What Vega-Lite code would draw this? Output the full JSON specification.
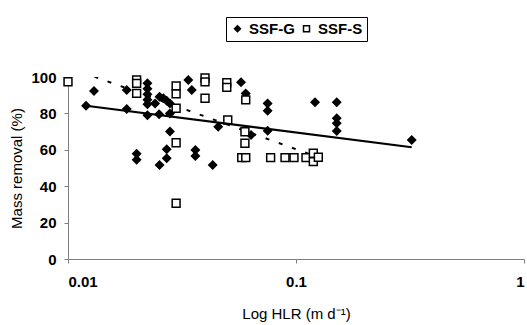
{
  "$schema": "https://vega.github.io/schema/vega-lite/v6.json",
  "width": 456,
  "height": 182,
  "autosize": {"type": "none"},
  "padding": {"left": 68, "top": 77, "right": 3, "bottom": 66},
  "background": "white",
  "config": {
    "view": {"stroke": null},
    "font": "Liberation Sans",
    "axis": {"grid": false, "domainColor": "#7f7f7f", "tickColor": "#7f7f7f", "labelColor": "black", "titleColor": "black", "labelFont": "Liberation Sans", "titleFont": "Liberation Sans", "labelOverlap": false}
  },
  "datasets": {
    "pts": [
      {"hlr": 0.0120, "removal": 84.2, "series": "SSF-G"},
      {"hlr": 0.0130, "removal": 92.3, "series": "SSF-G"},
      {"hlr": 0.0181, "removal": 92.9, "series": "SSF-G"},
      {"hlr": 0.0181, "removal": 82.4, "series": "SSF-G"},
      {"hlr": 0.0223, "removal": 96.5, "series": "SSF-G"},
      {"hlr": 0.0223, "removal": 93.5, "series": "SSF-G"},
      {"hlr": 0.0223, "removal": 90.5, "series": "SSF-G"},
      {"hlr": 0.0223, "removal": 87.5, "series": "SSF-G"},
      {"hlr": 0.0223, "removal": 85.0, "series": "SSF-G"},
      {"hlr": 0.0223, "removal": 79.0, "series": "SSF-G"},
      {"hlr": 0.0241, "removal": 85.5, "series": "SSF-G"},
      {"hlr": 0.0252, "removal": 89.2, "series": "SSF-G"},
      {"hlr": 0.0262, "removal": 88.3, "series": "SSF-G"},
      {"hlr": 0.0271, "removal": 87.0, "series": "SSF-G"},
      {"hlr": 0.0280, "removal": 85.5, "series": "SSF-G"},
      {"hlr": 0.0251, "removal": 79.5, "series": "SSF-G"},
      {"hlr": 0.0280, "removal": 80.0, "series": "SSF-G"},
      {"hlr": 0.0280, "removal": 70.0, "series": "SSF-G"},
      {"hlr": 0.0271, "removal": 60.3, "series": "SSF-G"},
      {"hlr": 0.0271, "removal": 55.3, "series": "SSF-G"},
      {"hlr": 0.0252, "removal": 51.6, "series": "SSF-G"},
      {"hlr": 0.0200, "removal": 57.8, "series": "SSF-G"},
      {"hlr": 0.0200, "removal": 54.5, "series": "SSF-G"},
      {"hlr": 0.0337, "removal": 98.4, "series": "SSF-G"},
      {"hlr": 0.0349, "removal": 92.9, "series": "SSF-G"},
      {"hlr": 0.0362, "removal": 59.9, "series": "SSF-G"},
      {"hlr": 0.0362, "removal": 56.6, "series": "SSF-G"},
      {"hlr": 0.0431, "removal": 51.6, "series": "SSF-G"},
      {"hlr": 0.0456, "removal": 72.7, "series": "SSF-G"},
      {"hlr": 0.0574, "removal": 97.1, "series": "SSF-G"},
      {"hlr": 0.0602, "removal": 91.0, "series": "SSF-G"},
      {"hlr": 0.0635, "removal": 68.1, "series": "SSF-G"},
      {"hlr": 0.0751, "removal": 85.5, "series": "SSF-G"},
      {"hlr": 0.0751, "removal": 81.5, "series": "SSF-G"},
      {"hlr": 0.0751, "removal": 70.5, "series": "SSF-G"},
      {"hlr": 0.1212, "removal": 86.1, "series": "SSF-G"},
      {"hlr": 0.1509, "removal": 86.1, "series": "SSF-G"},
      {"hlr": 0.1509, "removal": 77.3, "series": "SSF-G"},
      {"hlr": 0.1509, "removal": 74.6, "series": "SSF-G"},
      {"hlr": 0.1509, "removal": 70.3, "series": "SSF-G"},
      {"hlr": 0.3217, "removal": 65.4, "series": "SSF-G"},
      {"hlr": 0.0100, "removal": 97.4, "series": "SSF-S"},
      {"hlr": 0.0200, "removal": 98.4, "series": "SSF-S"},
      {"hlr": 0.0200, "removal": 96.5, "series": "SSF-S"},
      {"hlr": 0.0200, "removal": 91.0, "series": "SSF-S"},
      {"hlr": 0.0298, "removal": 95.1, "series": "SSF-S"},
      {"hlr": 0.0298, "removal": 90.7, "series": "SSF-S"},
      {"hlr": 0.0298, "removal": 82.8, "series": "SSF-S"},
      {"hlr": 0.0298, "removal": 63.9, "series": "SSF-S"},
      {"hlr": 0.0298, "removal": 30.6, "series": "SSF-S"},
      {"hlr": 0.0399, "removal": 99.5, "series": "SSF-S"},
      {"hlr": 0.0399, "removal": 97.3, "series": "SSF-S"},
      {"hlr": 0.0399, "removal": 88.3, "series": "SSF-S"},
      {"hlr": 0.0497, "removal": 96.9, "series": "SSF-S"},
      {"hlr": 0.0497, "removal": 94.3, "series": "SSF-S"},
      {"hlr": 0.0502, "removal": 76.4, "series": "SSF-S"},
      {"hlr": 0.0602, "removal": 87.4, "series": "SSF-S"},
      {"hlr": 0.0597, "removal": 69.9, "series": "SSF-S"},
      {"hlr": 0.0597, "removal": 63.6, "series": "SSF-S"},
      {"hlr": 0.0578, "removal": 55.7, "series": "SSF-S"},
      {"hlr": 0.0602, "removal": 55.7, "series": "SSF-S"},
      {"hlr": 0.0774, "removal": 55.7, "series": "SSF-S"},
      {"hlr": 0.0895, "removal": 55.7, "series": "SSF-S"},
      {"hlr": 0.0980, "removal": 55.7, "series": "SSF-S"},
      {"hlr": 0.1106, "removal": 55.7, "series": "SSF-S"},
      {"hlr": 0.1191, "removal": 58.1, "series": "SSF-S"},
      {"hlr": 0.1191, "removal": 53.5, "series": "SSF-S"},
      {"hlr": 0.1253, "removal": 55.9, "series": "SSF-S"}
    ],
    "trendG": [
      {"hlr": 0.0120, "removal": 84.2},
      {"hlr": 0.3217, "removal": 61.4}
    ],
    "trendS": [
      {"hlr": 0.0100, "removal": 105.4},
      {"hlr": 0.1253, "removal": 55.9}
    ]
  },
  "encoding": {
    "x": {
      "field": "hlr", "type": "quantitative",
      "scale": {"type": "log", "domain": [0.01, 1]},
      "axis": {"values": [0.01, 0.1, 1], "format": "~g", "title": "Log HLR (m d⁻¹)", "labelFontSize": 15, "labelFontWeight": "bold", "titleFontSize": 15, "titleFontWeight": "normal", "tickSize": 4, "labelPadding": 11, "titlePadding": 17, "labelOverlap": false}
    },
    "y": {
      "field": "removal", "type": "quantitative",
      "scale": {"domain": [0, 100]},
      "axis": {"values": [0, 20, 40, 60, 80, 100], "title": "Mass removal (%)", "labelFontSize": 15, "labelFontWeight": "bold", "titleFontSize": 15, "titleFontWeight": "normal", "tickSize": 4, "labelPadding": 8, "titlePadding": 6, "labelOverlap": false}
    }
  },
  "layer": [
    {
      "data": {"name": "trendS"},
      "mark": {"type": "line", "color": "black", "strokeWidth": 2, "strokeDash": [4, 10], "clip": true}
    },
    {
      "data": {"name": "pts"},
      "mark": {"type": "point", "filled": false, "stroke": "black", "strokeWidth": 1.5, "opacity": 1, "size": 62},
      "encoding": {
        "shape": {
          "field": "series", "type": "nominal",
          "scale": {"domain": ["SSF-G", "SSF-S"], "range": ["diamond", "square"]},
          "legend": {"title": null, "orient": "none", "legendX": 158, "legendY": -60, "direction": "horizontal", "strokeColor": "black", "padding": 4, "labelFontSize": 15, "labelFontWeight": "bold", "labelColor": "black", "labelFont": "Liberation Sans", "symbolSize": 36, "columnPadding": 4, "labelOffset": 4,
            "encode": {"symbols": {"update": {"stroke": {"value": "black"}, "strokeWidth": {"value": 1}}}}}
        },
        "fill": {
          "field": "series", "type": "nominal",
          "scale": {"domain": ["SSF-G", "SSF-S"], "range": ["black", "white"]},
          "legend": {"title": null, "orient": "none", "legendX": 158, "legendY": -60, "direction": "horizontal", "strokeColor": "black", "padding": 4, "labelFontSize": 15, "labelFontWeight": "bold", "labelColor": "black", "labelFont": "Liberation Sans", "symbolSize": 36, "columnPadding": 4, "labelOffset": 4,
            "encode": {"symbols": {"update": {"stroke": {"value": "black"}, "strokeWidth": {"value": 1}}}}}
        }
      }
    },
    {
      "data": {"name": "trendG"},
      "mark": {"type": "line", "color": "black", "strokeWidth": 2.2}
    }
  ]
}
